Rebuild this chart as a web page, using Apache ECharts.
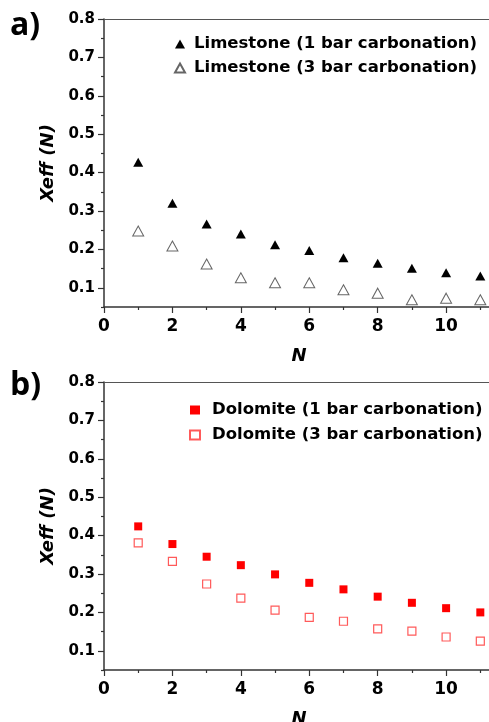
<!DOCTYPE html>
<html style="height: 100%">
<head>
    <meta charset="utf-8">
</head>
<body style="height: 100%; margin: 0; background: #fff">
<div id="container" style="width: 489px; height: 722px"></div>
<script src="https://cdn.jsdelivr.net/npm/echarts@6/dist/echarts.min.js"></script>
<script type="text/javascript">
    // cycle number N
    var cycles = [1, 2, 3, 4, 5, 6, 7, 8, 9, 10, 11];
    // a) limestone
    var limestone1bar = [0.427, 0.320, 0.266, 0.240, 0.212, 0.197, 0.178, 0.164, 0.151, 0.139, 0.131];
    var limestone3bar = [0.248, 0.209, 0.162, 0.126, 0.113, 0.113, 0.095, 0.086, 0.069, 0.073, 0.069];
    // b) dolomite
    var dolomite1bar = [0.424, 0.378, 0.345, 0.323, 0.299, 0.277, 0.260, 0.241, 0.225, 0.211, 0.200];
    var dolomite3bar = [0.381, 0.333, 0.274, 0.237, 0.206, 0.187, 0.177, 0.157, 0.151, 0.136, 0.125];
    // ticks
    var yTickLabels = [0.1, 0.2, 0.3, 0.4, 0.5, 0.6, 0.7, 0.8];
    var yMinorTicks = [0.05, 0.15, 0.25, 0.35, 0.45, 0.55, 0.65, 0.75];
    var xTickLabels = [0, 2, 4, 6, 8, 10];
    var xMinorTicks = [1, 3, 5, 7, 9, 11];

    var font = 'DejaVu Sans';
    var axisColor = '#333';

    function pairs(ys) {
        return cycles.map(function (n, i) { return [n, ys[i]]; });
    }

    function makeX(grid, major) {
        return {
            type: 'value', gridIndex: grid, min: 0, max: 11.4, position: 'bottom',
            name: major ? 'N' : '', nameLocation: 'middle', nameGap: 40,
            nameTextStyle: {fontFamily: font, fontWeight: 'bold', fontStyle: 'italic', fontSize: 18, color: '#000'},
            axisLine: {show: major, lineStyle: {color: axisColor, width: 1.5}},
            axisTick: {show: true, inside: false, length: major ? 6 : 3,
                customValues: major ? xTickLabels : xMinorTicks,
                lineStyle: {color: axisColor, width: 1.2}},
            axisLabel: {show: major, customValues: xTickLabels, margin: 11,
                fontFamily: font, fontWeight: 'bold', fontSize: 17, color: '#000'},
            splitLine: {show: false}
        };
    }

    // plain frame line along the top of a panel
    function makeTop(grid) {
        return {
            type: 'value', gridIndex: grid, min: 0, max: 11.4, position: 'top',
            axisLine: {show: true, lineStyle: {color: '#555', width: 1.2}},
            axisTick: {show: false}, axisLabel: {show: false}, splitLine: {show: false}
        };
    }

    function makeY(grid, major) {
        return {
            type: 'value', gridIndex: grid, min: 0.05, max: 0.8, position: 'left',
            name: major ? 'Xeff (N)' : '', nameLocation: 'middle', nameGap: 46, nameRotate: 90,
            nameTextStyle: {fontFamily: font, fontWeight: 'bold', fontStyle: 'italic', fontSize: 18, color: '#000'},
            axisLine: {show: major, lineStyle: {color: axisColor, width: 1.5}},
            axisTick: {show: true, inside: false, length: major ? 6 : 3,
                customValues: major ? yTickLabels : yMinorTicks,
                lineStyle: {color: axisColor, width: 1.2}},
            axisLabel: {show: major, customValues: yTickLabels, margin: 9,
                fontFamily: font, fontWeight: 'bold', fontSize: 15, color: '#000',
                formatter: function (v) { return v.toFixed(1); }},
            splitLine: {show: false}
        };
    }

    function legendText(padLeft) {
        return {fontFamily: font, fontWeight: 'bold', fontSize: 16.5, color: '#000',
            lineHeight: 18, padding: [0, 0, 0, padLeft]};
    }

    var dom = document.getElementById("container");
    var myChart = echarts.init(dom);
    var option = {
        animation: false,
        backgroundColor: '#fff',
        title: [
            {text: 'a)', left: 10, top: 10, padding: 0, textStyle: {fontFamily: 'Open Sans', fontWeight: 'bold', fontSize: 32, color: '#000'}},
            {text: 'b)', left: 10, top: 370, padding: 0, textStyle: {fontFamily: 'Open Sans', fontWeight: 'bold', fontSize: 32, color: '#000'}}
        ],
        grid: [
            {left: 104, top: 19, width: 390, height: 288, outerBoundsMode: 'none'},
            {left: 104, top: 382, width: 390, height: 288, outerBoundsMode: 'none'}
        ],
        xAxis: [makeX(0, true), makeX(0, false), makeTop(0), makeX(1, true), makeX(1, false), makeTop(1)],
        yAxis: [makeY(0, true), makeY(0, false), makeY(1, true), makeY(1, false)],
        legend: [
            {
                orient: 'vertical', left: 174, top: 35, padding: 0, itemWidth: 10, itemHeight: 9, itemGap: 6,
                textStyle: legendText(4),
                data: ['Limestone (1 bar carbonation)', 'Limestone (3 bar carbonation)']
            },
            {
                orient: 'vertical', left: 189, top: 401, padding: 0, itemWidth: 10, itemHeight: 9, itemGap: 7,
                textStyle: legendText(7),
                data: ['Dolomite (1 bar carbonation)', 'Dolomite (3 bar carbonation)']
            }
        ],
        series: [
            {
                name: 'Limestone (1 bar carbonation)', type: 'scatter', xAxisIndex: 0, yAxisIndex: 0,
                symbol: 'triangle', symbolSize: [10, 9],
                itemStyle: {color: '#000', opacity: 1},
                data: pairs(limestone1bar)
            },
            {
                name: 'Limestone (3 bar carbonation)', type: 'scatter', xAxisIndex: 0, yAxisIndex: 0,
                symbol: 'triangle', symbolSize: [11, 10],
                itemStyle: {color: 'rgba(255,255,255,0)', borderColor: '#666', borderWidth: 1, opacity: 1},
                data: pairs(limestone3bar)
            },
            {
                name: 'Dolomite (1 bar carbonation)', type: 'scatter', xAxisIndex: 3, yAxisIndex: 2,
                symbol: 'rect', symbolSize: 8,
                itemStyle: {color: '#ff0000', opacity: 1},
                data: pairs(dolomite1bar)
            },
            {
                name: 'Dolomite (3 bar carbonation)', type: 'scatter', xAxisIndex: 3, yAxisIndex: 2,
                symbol: 'rect', symbolSize: 8,
                itemStyle: {color: 'rgba(255,255,255,0)', borderColor: '#ff5a5a', borderWidth: 1.2, opacity: 1},
                data: pairs(dolomite3bar)
            }
        ]
    };
    myChart.setOption(option, true);
</script>
</body>
</html>
